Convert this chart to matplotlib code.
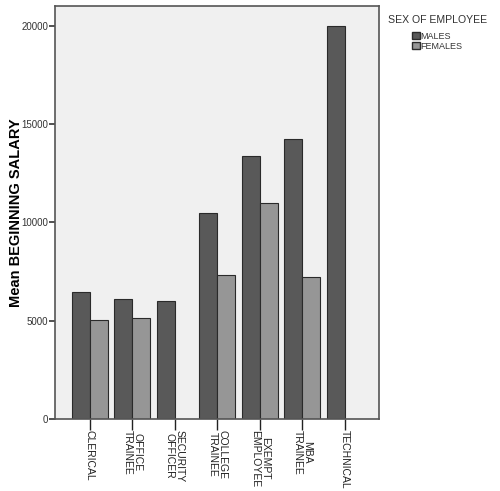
import numpy as np
import matplotlib
matplotlib.use("Agg")
import matplotlib.pyplot as plt
from matplotlib.patches import Patch

categories = ["CLERICAL", "OFFICE\nTRAINEE", "SECURITY\nOFFICER", "COLLEGE\nTRAINEE",
              "EXEMPT\nEMPLOYEE", "MBA\nTRAINEE", "TECHNICAL"]
males = [6440, 6090, 6020, 10490, 13390, 14230, 19960]
females = [5050, 5140, np.nan, 7320, 11000, 7220, np.nan]
yticks = [0, 5000, 10000, 15000, 20000]

fam = ['Liberation Sans', 'DejaVu Sans']

male_c = '#595959'
female_c = '#969696'

fig = plt.figure(figsize=(5, 4.91), dpi=100)
ax = fig.add_axes([0.11, 0.1466, 0.648, 0.8414])
ax.set_facecolor('#f0f0f0')

x = np.arange(len(categories))
w = 0.423
ax.bar(x - w / 2, males, w, color=male_c, edgecolor='#2a2a2a', linewidth=0.8)
ax.bar(x + w / 2, females, w, color=female_c, edgecolor='#2a2a2a', linewidth=0.8)

ax.set_xlim(-0.815, 6.8)
ax.set_ylim(0, 21000)

ax.set_yticks(yticks)
ax.set_yticklabels([str(v) for v in yticks], family=fam, fontsize=7, color='#333333')
ax.tick_params(axis='y', direction='out', length=4, width=1.2, color='#333333', pad=1)

ax.set_xticks(x)
ax.set_xticklabels(categories, rotation=270, ha='center', va='top', family=fam,
                   fontsize=7.5, color='#222222', linespacing=0.95)
ax.tick_params(axis='x', direction='out', length=8, width=1.0, color='#222222', pad=0)

for s in ax.spines.values():
    s.set_color('#555555')
    s.set_linewidth(1.2)

ax.set_ylabel("Mean BEGINNING SALARY", family=fam, fontsize=10.5, fontweight='bold')
ax.yaxis.set_label_coords(-0.1, 0.5)

fig.text(388 / 500, 1 - 20 / 491, 'SEX OF EMPLOYEE', family=fam, fontsize=7.6,
         color='#333333', ha='left', va='center')

handles = [Patch(facecolor=male_c, edgecolor='#2a2a2a', label='MALES'),
           Patch(facecolor=female_c, edgecolor='#2a2a2a', label='FEMALES')]
leg = fig.legend(handles=handles, loc='upper left',
                 bbox_to_anchor=(412 / 500, 1 - 32 / 491), frameon=False,
                 prop={'family': fam, 'size': 6.5}, handlelength=0.85,
                 handleheight=0.85, handletextpad=0.1, labelspacing=0.1,
                 borderaxespad=0, borderpad=0)
for t in leg.get_texts():
    t.set_color('#333333')

fig.savefig("out.png", dpi=100, facecolor='white')
